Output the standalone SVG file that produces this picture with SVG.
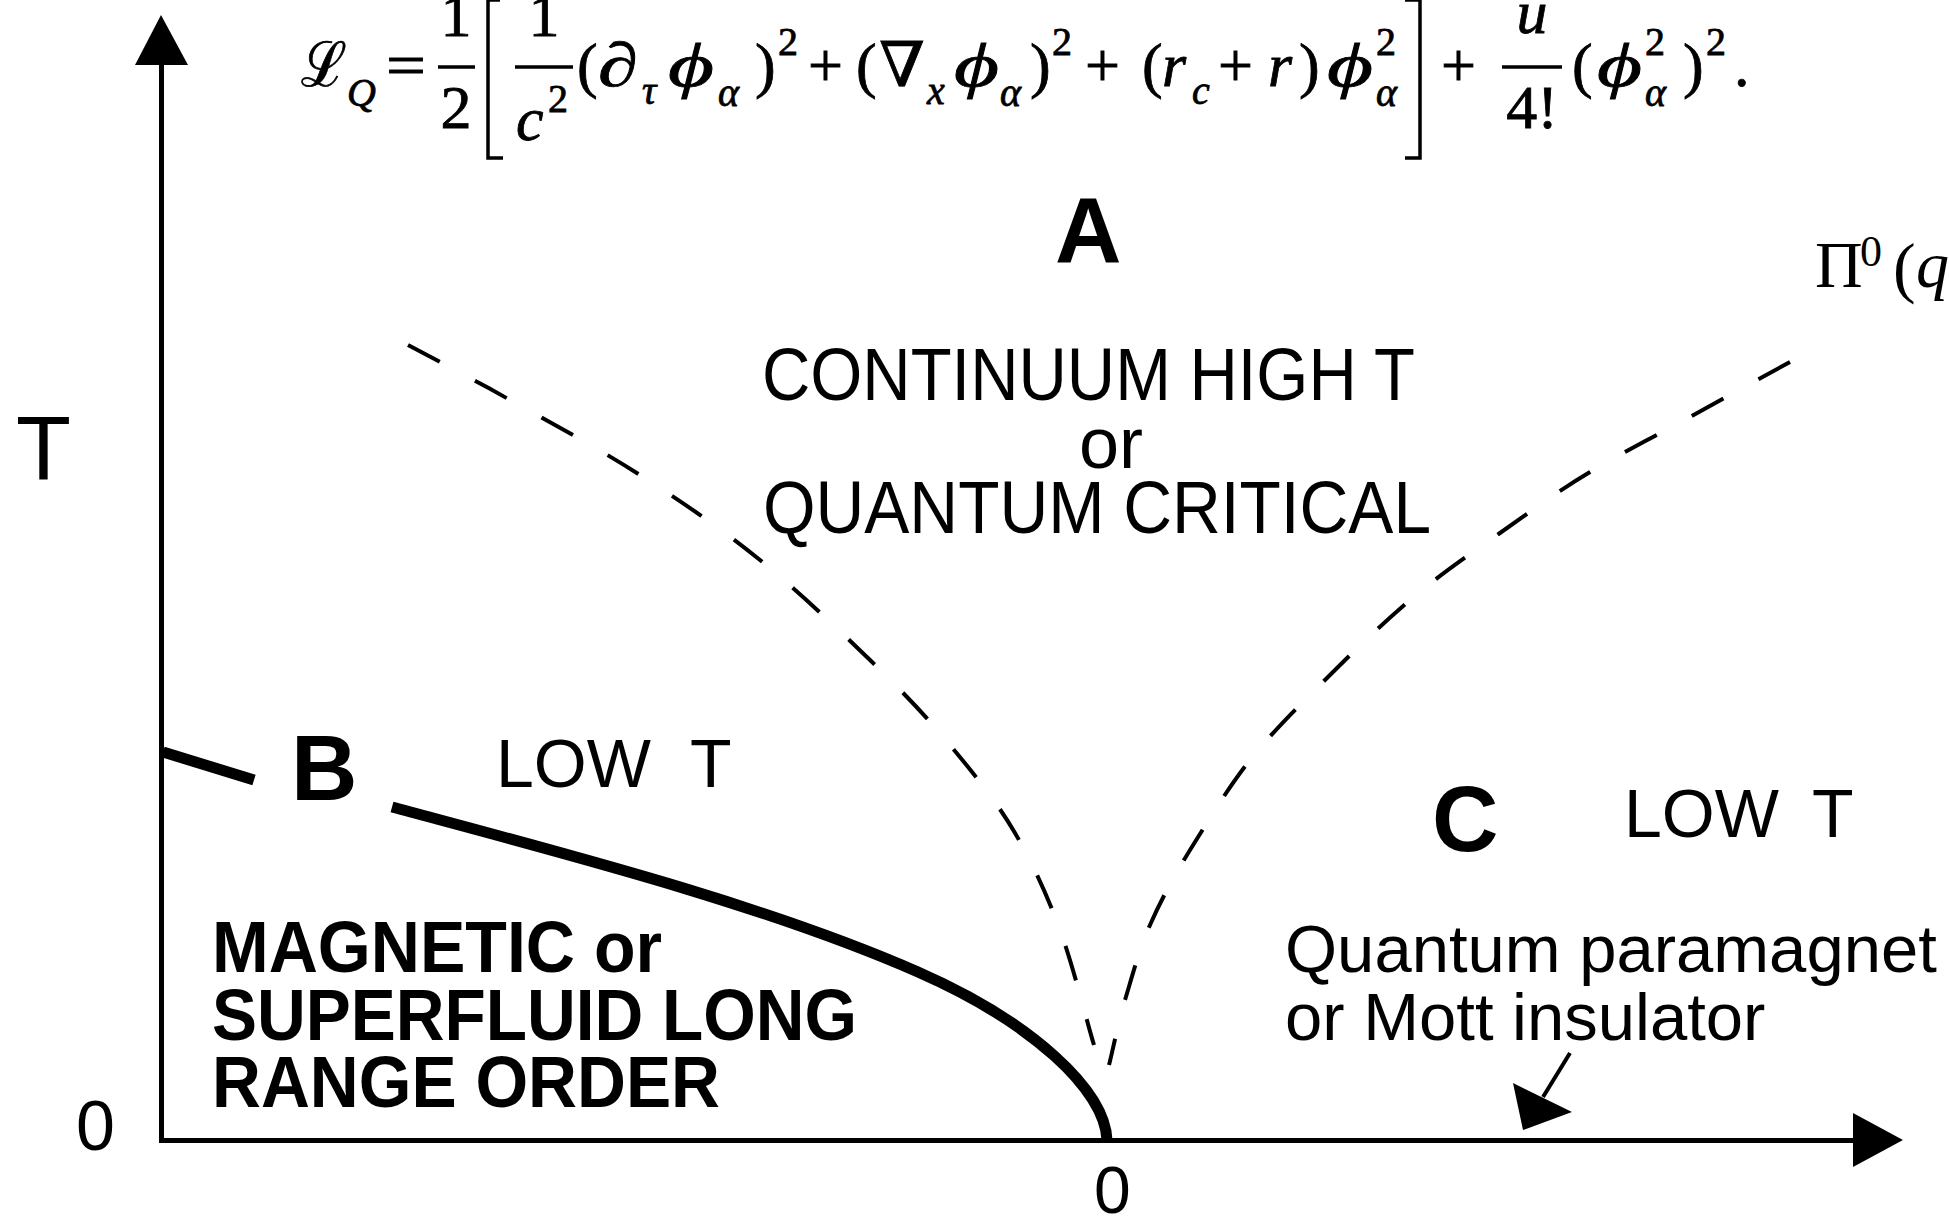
<svg xmlns="http://www.w3.org/2000/svg" width="1949" height="1216" viewBox="0 0 1949 1216">
<defs>
<style>
.f{font-family:"Liberation Serif","DejaVu Serif",serif;font-size:62px;fill:#000;stroke:#000;stroke-width:0.8}
.i{font-style:italic}
.s{font-size:40px}
.lab{font-family:"Liberation Sans",Arial,sans-serif;fill:#000}
.big{font-weight:bold;font-size:92px}
.bold{font-weight:bold;font-size:72px}
.reg{font-size:68px}
.ax{stroke:#000;stroke-width:5;fill:none}
.dash{stroke:#000;stroke-width:4;fill:none;stroke-dasharray:36 40}
.thick{stroke:#000;stroke-width:11;fill:none}
.bar{stroke:#000;stroke-width:3.5}
</style>
</defs>
<rect width="1949" height="1216" fill="#fff"/>

<g id="formula">
<text class="f" x="301" y="86" textLength="46" lengthAdjust="spacingAndGlyphs">ℒ</text>
<text class="f i s" x="347" y="106">Q</text>
<text class="f" x="386" y="86" textLength="40" lengthAdjust="spacingAndGlyphs">=</text>
<text class="f" x="456" y="36" text-anchor="middle">1</text>
<line class="bar" x1="438" y1="67" x2="475" y2="67"/>
<text class="f" x="456" y="128" text-anchor="middle">2</text>
<path d="M500,0 L488,0 L488,158 L503,158" class="bar" fill="none"/>
<text class="f" x="544" y="36" text-anchor="middle">1</text>
<line class="bar" x1="515" y1="67" x2="573" y2="67"/>
<text class="f i" x="516" y="140">c</text>
<text class="f s" x="548" y="112">2</text>
<text class="f" x="577" y="86">(</text>
<text class="f i" x="598" y="86" textLength="40" lengthAdjust="spacingAndGlyphs">∂</text>
<text class="f i s" x="642" y="104">τ</text>
<text class="f i" x="668" y="86" textLength="46" lengthAdjust="spacingAndGlyphs">ϕ</text>
<text class="f i s" x="718" y="106">α</text>
<text class="f" x="755" y="86">)</text>
<text class="f s" x="778" y="55">2</text>
<text class="f" x="808" y="86">+</text>
<text class="f" x="856" y="86">(</text>
<text class="f" x="879" y="86" textLength="46" lengthAdjust="spacingAndGlyphs">∇</text>
<text class="f i s" x="927" y="104">x</text>
<text class="f i" x="954" y="86" textLength="45" lengthAdjust="spacingAndGlyphs">ϕ</text>
<text class="f i s" x="1000" y="106">α</text>
<text class="f" x="1030" y="86">)</text>
<text class="f s" x="1052" y="55">2</text>
<text class="f" x="1085" y="86">+</text>
<text class="f" x="1142" y="86">(</text>
<text class="f i" x="1162" y="86">r</text>
<text class="f i s" x="1192" y="104">c</text>
<text class="f" x="1218" y="86">+</text>
<text class="f i" x="1268" y="86">r</text>
<text class="f" x="1299" y="86">)</text>
<text class="f i" x="1327" y="86" textLength="46" lengthAdjust="spacingAndGlyphs">ϕ</text>
<text class="f s" x="1376" y="55">2</text>
<text class="f i s" x="1376" y="106">α</text>
<path d="M1405,0 L1420,0 L1420,158 L1405,158" class="bar" fill="none"/>
<text class="f" x="1441" y="86">+</text>
<text class="f i" x="1532" y="33" text-anchor="middle">u</text>
<line class="bar" x1="1502" y1="67" x2="1562" y2="67"/>
<text class="f" x="1532" y="128" text-anchor="middle">4!</text>
<text class="f" x="1572" y="86">(</text>
<text class="f i" x="1597" y="86" textLength="45" lengthAdjust="spacingAndGlyphs">ϕ</text>
<text class="f s" x="1645" y="55">2</text>
<text class="f i s" x="1645" y="106">α</text>
<text class="f" x="1683" y="86">)</text>
<text class="f s" x="1706" y="55">2</text>
<text class="f" x="1734" y="86">.</text>
</g>

<g id="pi-label">
<text class="f" x="1815" y="287" style="font-size:66px;stroke-width:0">Π</text>
<text class="f" x="1860" y="266" style="font-size:44px;stroke-width:0">0</text>
<text class="f" x="1893" y="290" style="font-size:68px;stroke-width:0">(</text>
<text class="f i" x="1916" y="287" style="font-size:66px;stroke-width:0">q</text>
</g>

<g id="axes">
<line class="ax" x1="161.5" y1="60" x2="161.5" y2="1143"/>
<polygon points="161,15 135,65 188,65" fill="#000"/>
<line class="ax" x1="159" y1="1140.5" x2="1860" y2="1140.5"/>
<polygon points="1903,1140 1853,1113 1853,1167" fill="#000"/>
<text class="lab" x="16" y="480" style="font-size:90px">T</text>
<text class="lab" x="76" y="1150" style="font-size:70px">0</text>
<text class="lab" x="1094" y="1213" style="font-size:66px">0</text>
</g>

<g id="connectors">
<path class="dash" d="M408,345 C425,354 471,378 510,400 C549,422 598,448 640,475 C682,502 722,529 760,560 C798,591 838,629 870,660 C902,691 926,716 950,745 C974,774 997,802 1015,833 C1033,864 1047,895 1060,930 C1073,965 1088,1026 1094,1045"/>
<path class="dash" d="M1790,362 C1773,371 1723,399 1690,417 C1657,435 1622,453 1590,472 C1558,491 1530,512 1500,533 C1470,554 1438,576 1410,600 C1382,624 1357,648 1330,675 C1303,702 1273,731 1250,760 C1227,789 1207,823 1190,850 C1173,878 1161,900 1150,925 C1139,950 1132,977 1125,1000 C1118,1023 1112,1054 1109,1065"/>
<path class="thick" d="M392,807 C570,855 765,905 918,972 C1032,1022 1105,1090 1107,1140"/>
<line class="thick" x1="163" y1="752" x2="254" y2="780"/>
<line x1="1570" y1="1053" x2="1543" y2="1097" stroke="#000" stroke-width="4"/>
<polygon points="1523,1130 1513,1083 1572,1112" fill="#000"/>
</g>

<g id="region-A">
<text class="lab big" x="1055" y="262">A</text>
<text class="lab" x="762" y="400" style="font-size:74px" textLength="653" lengthAdjust="spacingAndGlyphs">CONTINUUM HIGH T</text>
<text class="lab" x="1079" y="468" style="font-size:72px">or</text>
<text class="lab" x="763" y="533" style="font-size:74px" textLength="668" lengthAdjust="spacingAndGlyphs">QUANTUM CRITICAL</text>
</g>

<g id="region-B">
<text class="lab big" x="291" y="800">B</text>
<text class="lab reg" x="496" y="787">LOW<tspan x="690">T</tspan></text>
<text class="lab bold" x="212" y="972" textLength="450" lengthAdjust="spacingAndGlyphs">MAGNETIC or</text>
<text class="lab bold" x="212" y="1040" textLength="645" lengthAdjust="spacingAndGlyphs">SUPERFLUID LONG</text>
<text class="lab bold" x="212" y="1107" textLength="508" lengthAdjust="spacingAndGlyphs">RANGE ORDER</text>
</g>

<g id="region-C">
<text class="lab big" x="1432" y="851">C</text>
<text class="lab reg" x="1624" y="837">LOW<tspan x="1812">T</tspan></text>
<text class="lab" x="1285" y="972" style="font-size:67px">Quantum paramagnet</text>
<text class="lab" x="1285" y="1040" style="font-size:67px">or Mott insulator</text>
</g>
</svg>
